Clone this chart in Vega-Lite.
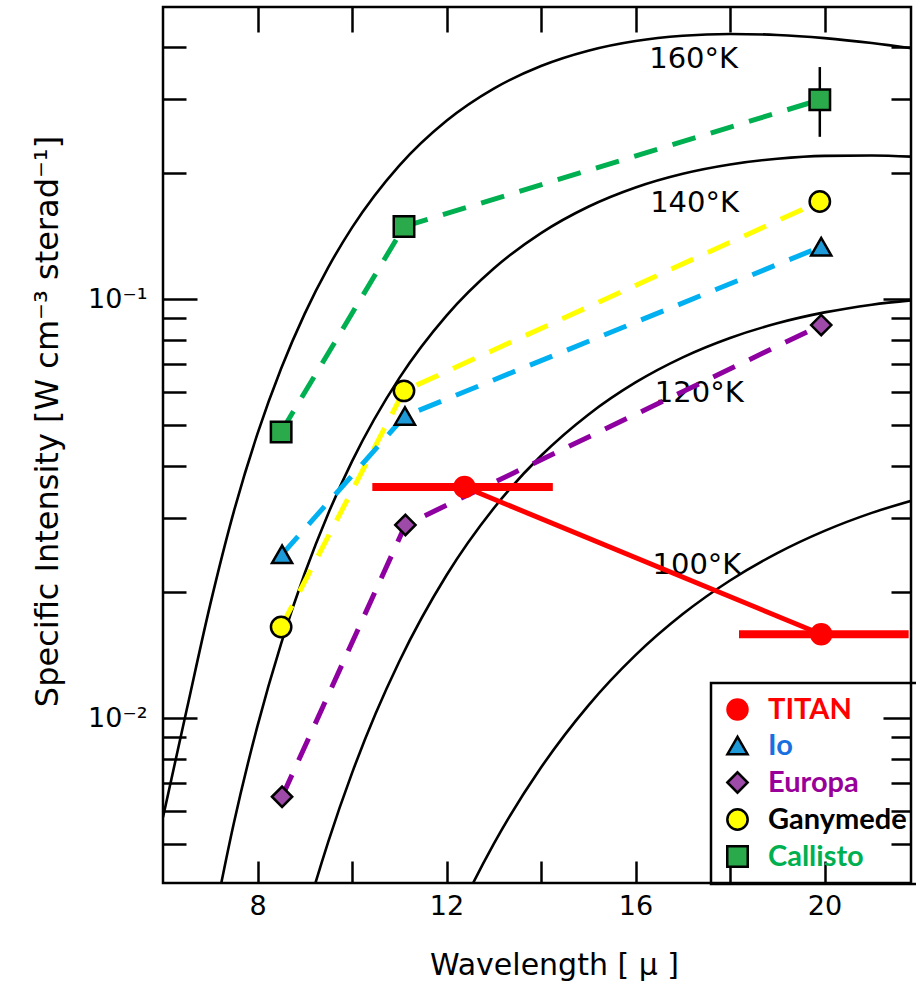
{
  "$schema": "https://vega.github.io/schema/vega-lite/v6.json",
  "width": 748,
  "height": 876,
  "autosize": {"type": "none"},
  "padding": {"left": 163, "top": 7, "right": 5, "bottom": 109},
  "background": "white",
  "datasets": {
    "bb": [
      {"T": "160", "lambda": 6, "B": 0.0058}, {"T": "160", "lambda": 6.5, "B": 0.01045}, {"T": "160", "lambda": 7, "B": 0.01868}, {"T": "160", "lambda": 7.5, "B": 0.03115}, {"T": "160", "lambda": 8, "B": 0.04773}, {"T": "160", "lambda": 8.5, "B": 0.06828}, {"T": "160", "lambda": 9, "B": 0.09236}, {"T": "160", "lambda": 9.5, "B": 0.11924}, {"T": "160", "lambda": 10, "B": 0.14813}, {"T": "160", "lambda": 11, "B": 0.20834}, {"T": "160", "lambda": 12, "B": 0.26656}, {"T": "160", "lambda": 13, "B": 0.31808}, {"T": "160", "lambda": 14, "B": 0.36015}, {"T": "160", "lambda": 15, "B": 0.39175}, {"T": "160", "lambda": 16, "B": 0.41315}, {"T": "160", "lambda": 17, "B": 0.42525}, {"T": "160", "lambda": 18, "B": 0.42941}, {"T": "160", "lambda": 19, "B": 0.4271}, {"T": "160", "lambda": 20, "B": 0.41973}, {"T": "160", "lambda": 21, "B": 0.40848}, {"T": "160", "lambda": 22, "B": 0.39445},
      {"T": "140", "lambda": 7, "B": 0.00298}, {"T": "140", "lambda": 7.5, "B": 0.00562}, {"T": "140", "lambda": 8, "B": 0.00958}, {"T": "140", "lambda": 8.5, "B": 0.01506}, {"T": "140", "lambda": 9, "B": 0.02216}, {"T": "140", "lambda": 9.5, "B": 0.03084}, {"T": "140", "lambda": 10, "B": 0.04099}, {"T": "140", "lambda": 11, "B": 0.06479}, {"T": "140", "lambda": 12, "B": 0.09136}, {"T": "140", "lambda": 13, "B": 0.11833}, {"T": "140", "lambda": 14, "B": 0.14373}, {"T": "140", "lambda": 15, "B": 0.16614}, {"T": "140", "lambda": 16, "B": 0.18472}, {"T": "140", "lambda": 17, "B": 0.19919}, {"T": "140", "lambda": 18, "B": 0.20963}, {"T": "140", "lambda": 19, "B": 0.21627}, {"T": "140", "lambda": 20, "B": 0.2197}, {"T": "140", "lambda": 21, "B": 0.22017}, {"T": "140", "lambda": 22, "B": 0.21834},
      {"T": "120", "lambda": 8.5, "B": 0.00201}, {"T": "120", "lambda": 9, "B": 0.0033}, {"T": "120", "lambda": 9.5, "B": 0.00508}, {"T": "120", "lambda": 10, "B": 0.00739}, {"T": "120", "lambda": 10.5, "B": 0.01025}, {"T": "120", "lambda": 11, "B": 0.01365}, {"T": "120", "lambda": 12, "B": 0.02192}, {"T": "120", "lambda": 13, "B": 0.03168}, {"T": "120", "lambda": 14, "B": 0.04227}, {"T": "120", "lambda": 15, "B": 0.05299}, {"T": "120", "lambda": 16, "B": 0.06326}, {"T": "120", "lambda": 17, "B": 0.07262}, {"T": "120", "lambda": 18, "B": 0.08078}, {"T": "120", "lambda": 19, "B": 0.08757}, {"T": "120", "lambda": 20, "B": 0.09296}, {"T": "120", "lambda": 21, "B": 0.09699}, {"T": "120", "lambda": 22, "B": 0.09973},
      {"T": "100", "lambda": 11.5, "B": 0.00218}, {"T": "100", "lambda": 12, "B": 0.00297}, {"T": "100", "lambda": 12.5, "B": 0.00391}, {"T": "100", "lambda": 13, "B": 0.00501}, {"T": "100", "lambda": 14, "B": 0.00762}, {"T": "100", "lambda": 15, "B": 0.01071}, {"T": "100", "lambda": 16, "B": 0.01413}, {"T": "100", "lambda": 17, "B": 0.01771}, {"T": "100", "lambda": 18, "B": 0.0213}, {"T": "100", "lambda": 19, "B": 0.02476}, {"T": "100", "lambda": 20, "B": 0.02798}, {"T": "100", "lambda": 21, "B": 0.03089}, {"T": "100", "lambda": 22, "B": 0.03343}
    ],
    "tlabels": [
      {"label": "160°K", "lambda": 17.23, "B": 0.374},
      {"label": "140°K", "lambda": 17.25, "B": 0.1692},
      {"label": "120°K", "lambda": 17.35, "B": 0.0597},
      {"label": "100°K", "lambda": 17.3, "B": 0.0232}
    ],
    "obs": [
      {"body": "Callisto", "lambda": 8.5, "I": 0.0482},
      {"body": "Callisto", "lambda": 11.1, "I": 0.149},
      {"body": "Callisto", "lambda": 19.9, "I": 0.299, "Ilo": 0.244, "Ihi": 0.358},
      {"body": "Ganymede", "lambda": 8.5, "I": 0.0165},
      {"body": "Ganymede", "lambda": 11.1, "I": 0.0604},
      {"body": "Ganymede", "lambda": 19.9, "I": 0.171},
      {"body": "Io", "lambda": 8.52, "I": 0.0246},
      {"body": "Io", "lambda": 11.12, "I": 0.0526},
      {"body": "Io", "lambda": 19.93, "I": 0.1334},
      {"body": "Europa", "lambda": 8.52, "I": 0.00649},
      {"body": "Europa", "lambda": 11.13, "I": 0.0289},
      {"body": "Europa", "lambda": 19.93, "I": 0.0867},
      {"body": "TITAN", "lambda": 12.38, "I": 0.0356, "lo": 10.43, "hi": 14.25},
      {"body": "TITAN", "lambda": 19.93, "I": 0.01585, "lo": 18.19, "hi": 21.78}
    ]
  },
  "layer": [
    {
      "data": {"name": "bb"},
      "mark": {"type": "line", "color": "black", "strokeWidth": 2.6, "interpolate": "monotone", "clip": true},
      "encoding": {
        "x": {"field": "lambda", "type": "quantitative", "scale": {"domain": [6, 21.83], "nice": false, "zero": false},
          "axis": {"orient": "bottom", "title": "Wavelength  [ μ ]", "values": [8, 10, 12, 14, 16, 18, 20],
            "labelExpr": "datum.value % 4 === 0 ? datum.label : ''", "tickSize": -22, "labelPadding": 32,
            "labelFontSize": 27, "titleFontSize": 30, "titleX": 391, "titleY": 82, "titleBaseline": "middle",
            "labelOverlap": false, "labelFlush": false}},
        "y": {"field": "B", "type": "quantitative", "scale": {"type": "log", "domain": [0.00404, 0.498], "nice": false},
          "axis": {"orient": "left", "title": "Specific  Intensity   [W cm⁻³ sterad⁻¹]",
            "values": [0.005, 0.006, 0.007, 0.008, 0.009, 0.01, 0.02, 0.03, 0.04, 0.05, 0.06, 0.07, 0.08, 0.09, 0.1, 0.2, 0.3, 0.4],
            "labelExpr": "datum.value == 0.1 ? '10⁻¹' : datum.value == 0.01 ? '10⁻²' : ''",
            "tickSize": {"condition": {"test": "datum.value == 0.1 || datum.value == 0.01", "value": -34}, "value": -23},
            "labelPadding": 50, "labelFontSize": 27, "titleFontSize": 32, "titleX": -99, "titleY": 414,
            "labelOverlap": false, "labelFlush": false}},
        "detail": {"field": "T"}
      }
    },
    {
      "data": {"name": "tlabels"},
      "mark": {"type": "text", "font": "DejaVu Sans", "fontSize": 29, "color": "black", "align": "center", "baseline": "middle"},
      "encoding": {
        "x": {"field": "lambda", "type": "quantitative", "scale": {"domain": [6, 21.83], "nice": false, "zero": false},
          "axis": {"orient": "top", "title": null, "values": [8, 10, 12, 14, 16, 18, 20], "labels": false, "tickSize": -25}},
        "y": {"field": "B", "type": "quantitative", "scale": {"type": "log", "domain": [0.00404, 0.498], "nice": false},
          "axis": {"orient": "right", "title": null, "labels": false,
            "values": [0.005, 0.006, 0.007, 0.008, 0.009, 0.01, 0.02, 0.03, 0.04, 0.05, 0.06, 0.07, 0.08, 0.09, 0.1, 0.2, 0.3, 0.4],
            "tickSize": {"condition": {"test": "datum.value == 0.1 || datum.value == 0.01", "value": -28}, "value": -20}}},
        "text": {"field": "label"}
      }
    },
    {
      "data": {"name": "obs"},
      "transform": [{"filter": "datum.body !== 'TITAN'"}],
      "mark": {"type": "line", "strokeWidth": 5, "strokeDash": [24, 16]},
      "encoding": {
        "x": {"field": "lambda", "type": "quantitative", "scale": {"domain": [6, 21.83], "nice": false, "zero": false}, "axis": null},
        "y": {"field": "I", "type": "quantitative", "scale": {"type": "log", "domain": [0.00404, 0.498], "nice": false}, "axis": null},
        "color": {"field": "body", "type": "nominal", "legend": null,
          "scale": {"domain": ["Io", "Europa", "Ganymede", "Callisto"], "range": ["#00b0f0", "#8e00a0", "#ffff00", "#00b050"]}}
      }
    },
    {
      "data": {"name": "obs"},
      "transform": [{"filter": "datum.body === 'TITAN'"}],
      "mark": {"type": "line", "strokeWidth": 5, "color": "#ff0000"},
      "encoding": {
        "x": {"field": "lambda", "type": "quantitative", "scale": {"domain": [6, 21.83], "nice": false, "zero": false}, "axis": null},
        "y": {"field": "I", "type": "quantitative", "scale": {"type": "log", "domain": [0.00404, 0.498], "nice": false}, "axis": null}
      }
    },
    {
      "data": {"name": "obs"},
      "transform": [{"filter": "datum.body === 'TITAN'"}],
      "mark": {"type": "rule", "strokeWidth": 8, "color": "#ff0000"},
      "encoding": {
        "x": {"field": "lo", "type": "quantitative", "scale": {"domain": [6, 21.83], "nice": false, "zero": false}, "axis": null},
        "x2": {"field": "hi"},
        "y": {"field": "I", "type": "quantitative", "scale": {"type": "log", "domain": [0.00404, 0.498], "nice": false}, "axis": null}
      }
    },
    {
      "data": {"name": "obs"},
      "transform": [{"filter": "isValid(datum.Ilo)"}],
      "mark": {"type": "rule", "strokeWidth": 2.5, "color": "black"},
      "encoding": {
        "x": {"field": "lambda", "type": "quantitative", "scale": {"domain": [6, 21.83], "nice": false, "zero": false}, "axis": null},
        "y": {"field": "Ilo", "type": "quantitative", "scale": {"type": "log", "domain": [0.00404, 0.498], "nice": false}, "axis": null},
        "y2": {"field": "Ihi"}
      }
    },
    {
      "data": {"name": "obs"},
      "mark": {"type": "point", "filled": true, "strokeWidth": 2.5, "opacity": 1, "strokeOpacity": 1, "fillOpacity": 1},
      "encoding": {
        "x": {"field": "lambda", "type": "quantitative", "scale": {"domain": [6, 21.83], "nice": false, "zero": false}, "axis": null},
        "y": {"field": "I", "type": "quantitative", "scale": {"type": "log", "domain": [0.00404, 0.498], "nice": false}, "axis": null},
        "fill": {"field": "body", "type": "nominal", "title": null,
          "scale": {"domain": ["TITAN", "Io", "Europa", "Ganymede", "Callisto"], "range": ["#ff0000", "#1e9ad8", "#9e4aa9", "#ffff00", "#2aaa4a"]},
          "legend": {"title": null, "orient": "none", "legendX": 548, "legendY": 676, "strokeColor": "black",
            "padding": 12, "rowPadding": 6, "labelFont": "Lato", "labelFontWeight": "bold", "labelFontSize": 29, "labelOffset": 16,
            "labelLimit": 400, "symbolStrokeWidth": 2.5, "symbolOpacity": 1,
            "labelExpr": "datum.value === 'TITAN' ? '\u00a0\u00a0\u00a0\u00a0\u00a0TITAN' : datum.label",
            "labelColor": {"expr": "datum.value === 'TITAN' ? '#ff0000' : datum.value === 'Io' ? '#1a6fe0' : datum.value === 'Europa' ? '#990099' : datum.value === 'Callisto' ? '#00b050' : '#000000'"}}},
        "stroke": {"field": "body", "type": "nominal", "title": null,
          "scale": {"domain": ["TITAN", "Io", "Europa", "Ganymede", "Callisto"], "range": ["#ff0000", "#000000", "#000000", "#000000", "#000000"]}},
        "shape": {"field": "body", "type": "nominal", "title": null,
          "scale": {"domain": ["TITAN", "Io", "Europa", "Ganymede", "Callisto"], "range": ["circle", "triangle-up", "diamond", "circle", "square"]}},
        "size": {"field": "body", "type": "nominal", "title": null,
          "scale": {"domain": ["TITAN", "Io", "Europa", "Ganymede", "Callisto"], "range": [400, 420, 520, 250, 300]}}
      }
    }
  ],
  "resolve": {"axis": {"x": "independent", "y": "independent"}},
  "config": {
    "view": {"stroke": "black", "strokeWidth": 2.5},
    "legend": {"strokeWidth": 2.5},
    "axis": {"grid": false, "domain": false, "tickColor": "black", "tickWidth": 2.5, "labelColor": "black", "titleColor": "black",
      "labelFont": "DejaVu Sans", "titleFont": "DejaVu Sans", "titleFontWeight": "normal"}
  }
}
